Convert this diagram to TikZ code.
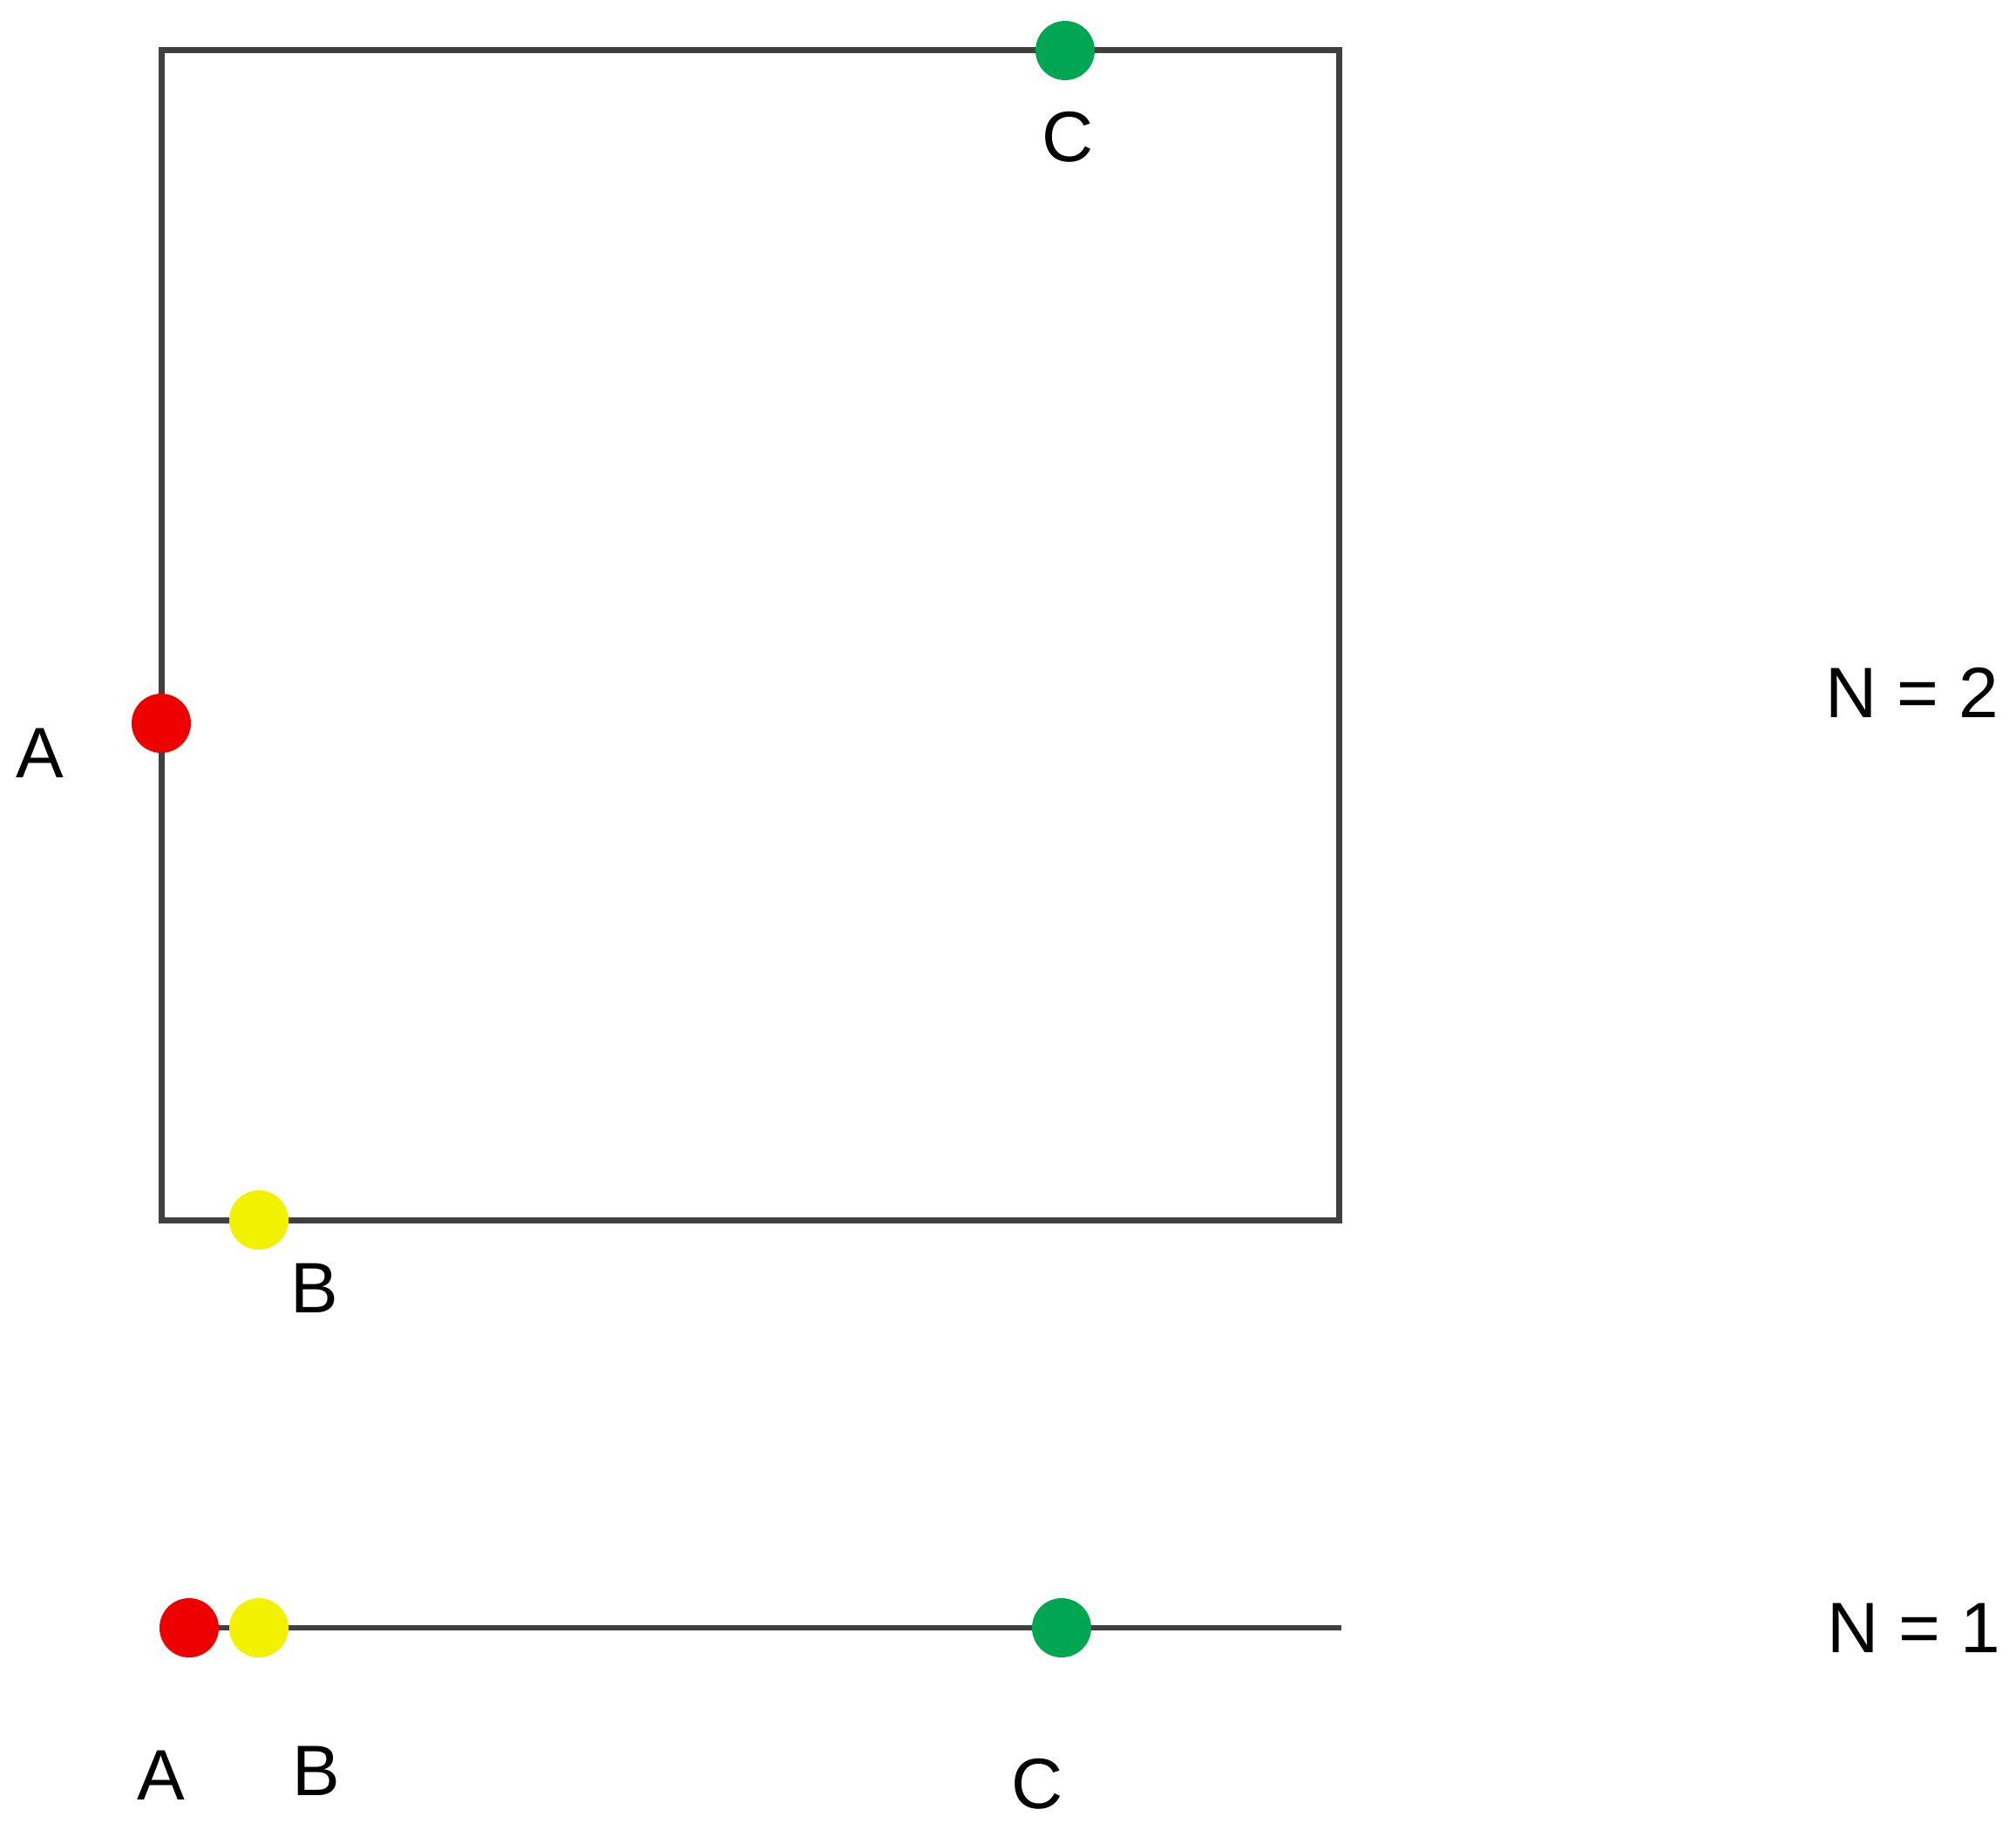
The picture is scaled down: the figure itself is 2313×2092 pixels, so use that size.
\documentclass[tikz,border=0pt]{standalone}
\usepackage{fontspec}
\setmainfont{Liberation Sans}
\definecolor{edgegray}{HTML}{404040}
\definecolor{dotred}{HTML}{EE0000}
\definecolor{dotyellow}{HTML}{F2F200}
\definecolor{dotgreen}{HTML}{00A651}
\tikzset{
  frame/.style={draw=edgegray, line width=7pt},
  dot/.style={circle, inner sep=0pt, minimum size=68pt},
  reddot/.style={dot, fill=dotred},
  yellowdot/.style={dot, fill=dotyellow},
  greendot/.style={dot, fill=dotgreen},
  lbl/.style={inner sep=0pt, anchor=center, font=\fontsize{82}{98}\selectfont}
}
\begin{document}
\begin{tikzpicture}[x=1pt, y=-1pt]
\useasboundingbox (0,0) rectangle (2313,2092);
% N = 2 square
\coordinate (sqtl) at (185,58);
\coordinate (sqbr) at (1536,1400);
\draw[frame] (sqtl) rectangle (sqbr);
\node[reddot] (a2) at (185,830) {};
\node[yellowdot] (b2) at (297,1400) {};
\node[greendot] (c2) at (1222,58) {};
\node[lbl] (la2) at (46,864) {A};
\node[lbl] (lb2) at (361,1478) {B};
\node[lbl] (lc2) at (1225,157) {C};
\node[lbl] (n2) at (2194,795) {N = 2};
% N = 1 line
\coordinate (lstart) at (217,1868);
\coordinate (lend) at (1539,1868);
\draw[frame, line width=6pt] (lstart) -- (lend);
\node[reddot] (a1) at (217,1868) {};
\node[yellowdot] (b1) at (297,1868) {};
\node[greendot] (c1) at (1218,1868) {};
\node[lbl] (la1) at (185,2037) {A};
\node[lbl] (lb1) at (363,2032) {B};
\node[lbl] (lc1) at (1190,2047) {C};
\node[lbl] (n1) at (2196,1868) {N = 1};
\end{tikzpicture}
\end{document}
